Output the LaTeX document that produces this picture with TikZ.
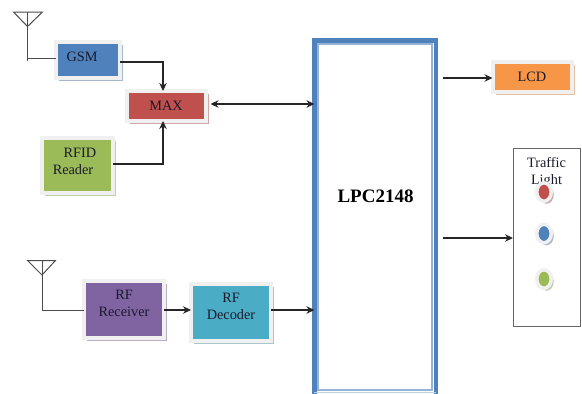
\documentclass[tikz,border=0pt]{standalone}
\usepackage{fontspec}
\setmainfont{Liberation Serif}
\usetikzlibrary{arrows.meta,shadows,calc,shapes.geometric}
\definecolor{cblue}{HTML}{4F81BD}
\definecolor{cred}{HTML}{C0504D}
\definecolor{cgreen}{HTML}{9BBB59}
\definecolor{cpurple}{HTML}{8064A2}
\definecolor{caqua}{HTML}{4BACC6}
\definecolor{corange}{HTML}{F79646}
\definecolor{clight}{HTML}{95B3D7}
\definecolor{cedge}{HTML}{F0F0F0}
\definecolor{cink}{HTML}{1A1A2A}
\tikzset{
  x=1pt,y=-1pt,
  blockbox/.style n args={3}{draw=cedge,line width=4pt,fill=#1,minimum width=#2,minimum height=#3,inner sep=0pt,outer sep=0pt,
    drop shadow={shadow xshift=3pt,shadow yshift=-3pt,fill=#1!45!white!80!gray,opacity=1}},
  lab/.style={font=\fontsize{14.3}{17}\selectfont,text=cink,align=center,inner sep=0pt},
  conn/.style={line width=1.2pt,draw=black!85},
  arrow/.style={conn,-{Stealth[length=8pt,width=7.5pt]}},
  both/.style={conn,{Stealth[length=8pt,width=7.5pt]}-{Stealth[length=8pt,width=7.5pt]}},
  ant/.style={line width=1pt,draw=black!70,line join=miter},
  lampbox/.style n args={1}{ellipse,draw=cedge,line width=3.5pt,fill=#1,minimum width=14.5pt,minimum height=18.5pt,inner sep=0pt,outer sep=0pt,
    drop shadow={shadow xshift=2.5pt,shadow yshift=-2.5pt,fill=#1!45!white!80!gray,opacity=1}},
}
\begin{document}
\begin{tikzpicture}
\useasboundingbox (0,0) rectangle (582,394);
% boxes
\node[blockbox={cblue}{64pt}{36pt}] (gsm) at (88,60) {};
\node[blockbox={cred}{79pt}{30pt}] (max) at (166,106) {};
\node[blockbox={cgreen}{71pt}{55pt}] (rfid) at (77.5,165.5) {};
\node[blockbox={cpurple}{80pt}{57pt}] (rx) at (124,309) {};
\node[blockbox={caqua}{80pt}{57pt}] (dec) at (231,312) {};
\node[blockbox={corange}{79pt}{30pt}] (lcd) at (532,77) {};
% processor: its lower band runs past the edge of the picture
\node[draw=cblue,line width=4.4pt,minimum width=121.5pt,minimum height=358pt,inner sep=0pt,outer sep=0pt,fill=white] (lpc) at (375.2,219.5) {};
\coordinate (lpcinnertl) at ($(lpc.north west)+(3.6,3.6)$);
\coordinate (lpcinnerr) at ($(lpc.east)+(-3.6,0)$);
\draw[clight,line width=1.8pt] (lpcinnertl) rectangle (lpcinnerr |- 0,390);
\draw[clight!60,line width=1.6pt] (lpc.west |- 0,392.3) -- (lpc.east |- 0,392.3);
% traffic light
\node[draw=black!60,line width=1pt,fill=white,minimum width=67pt,minimum height=178pt,inner sep=0pt,outer sep=0pt] (traffic) at (546.5,237) {};
\node[lab] (trafficlab) at (546.5,172.5) {Traffic\\Light};
\node[lampbox={cred}] (lampr) at (544,192) {};
\node[lampbox={cblue}] (lampb) at (544,233.5) {};
\node[lampbox={cgreen}] (lampg) at (544,279) {};
% texts
\node[lab] (gsmlab) at (82,57) {GSM};
\node[lab] (maxlab) at (166,106) {MAX};
\node[lab] (rfidlab) at (73,161.5) {\hspace*{14pt}RFID\\Reader};
\node[lab] (rxlab) at (124,303) {RF\\Receiver};
\node[lab] (declab) at (231,306.5) {RF\\Decoder};
\node[lab] (lcdlab) at (532,77) {LCD};
\node[font=\bfseries\fontsize{19}{22}\selectfont,text=black,inner sep=0pt] (lpclab) at (375.5,196) {LPC2148};
% antennas
\coordinate (a1l) at (13.5,12); \coordinate (a1r) at (42.5,12); \coordinate (a1t) at (27.5,12); \coordinate (a1a) at (27.5,26.5); \coordinate (a1b) at (27.5,61);
\draw[ant] (a1l) -- (a1r) -- (a1a) -- cycle;
\draw[ant] (a1t) -- (a1b);
\draw[ant] (gsm.west |- 0,58) -- (a1a |- 0,58);
\coordinate (a2l) at (27.5,260.5); \coordinate (a2r) at (55.5,260.5); \coordinate (a2t) at (42,260.5); \coordinate (a2a) at (42,275);
\draw[ant] (a2l) -- (a2r) -- (a2a) -- cycle;
\draw[ant] (a2t) |- (rx.west |- 0,310);
% connectors
\coordinate (gsmout) at ($(gsm.east)+(0,2)$);
\coordinate (rfidout) at ($(rfid.east)+(0,-1.5)$);
\draw[arrow] (gsmout) -| ($(max.north)+(-3,0)$);
\draw[arrow] (rfidout) -| ($(max.south)+(-3,0)$);
\draw[both] ($(max.east)+(5,-2)$) -- (lpc.west |- 0,104);
\draw[arrow] (rx.east |- 0,310) -- (dec.west |- 0,310);
\draw[arrow] (dec.east |- 0,310) -- (lpc.west |- 0,310);
\draw[arrow] (443,78) -- (lcd.west |- 0,78);
\draw[arrow] (443,238) -- (traffic.west |- 0,238);
\end{tikzpicture}
\end{document}
